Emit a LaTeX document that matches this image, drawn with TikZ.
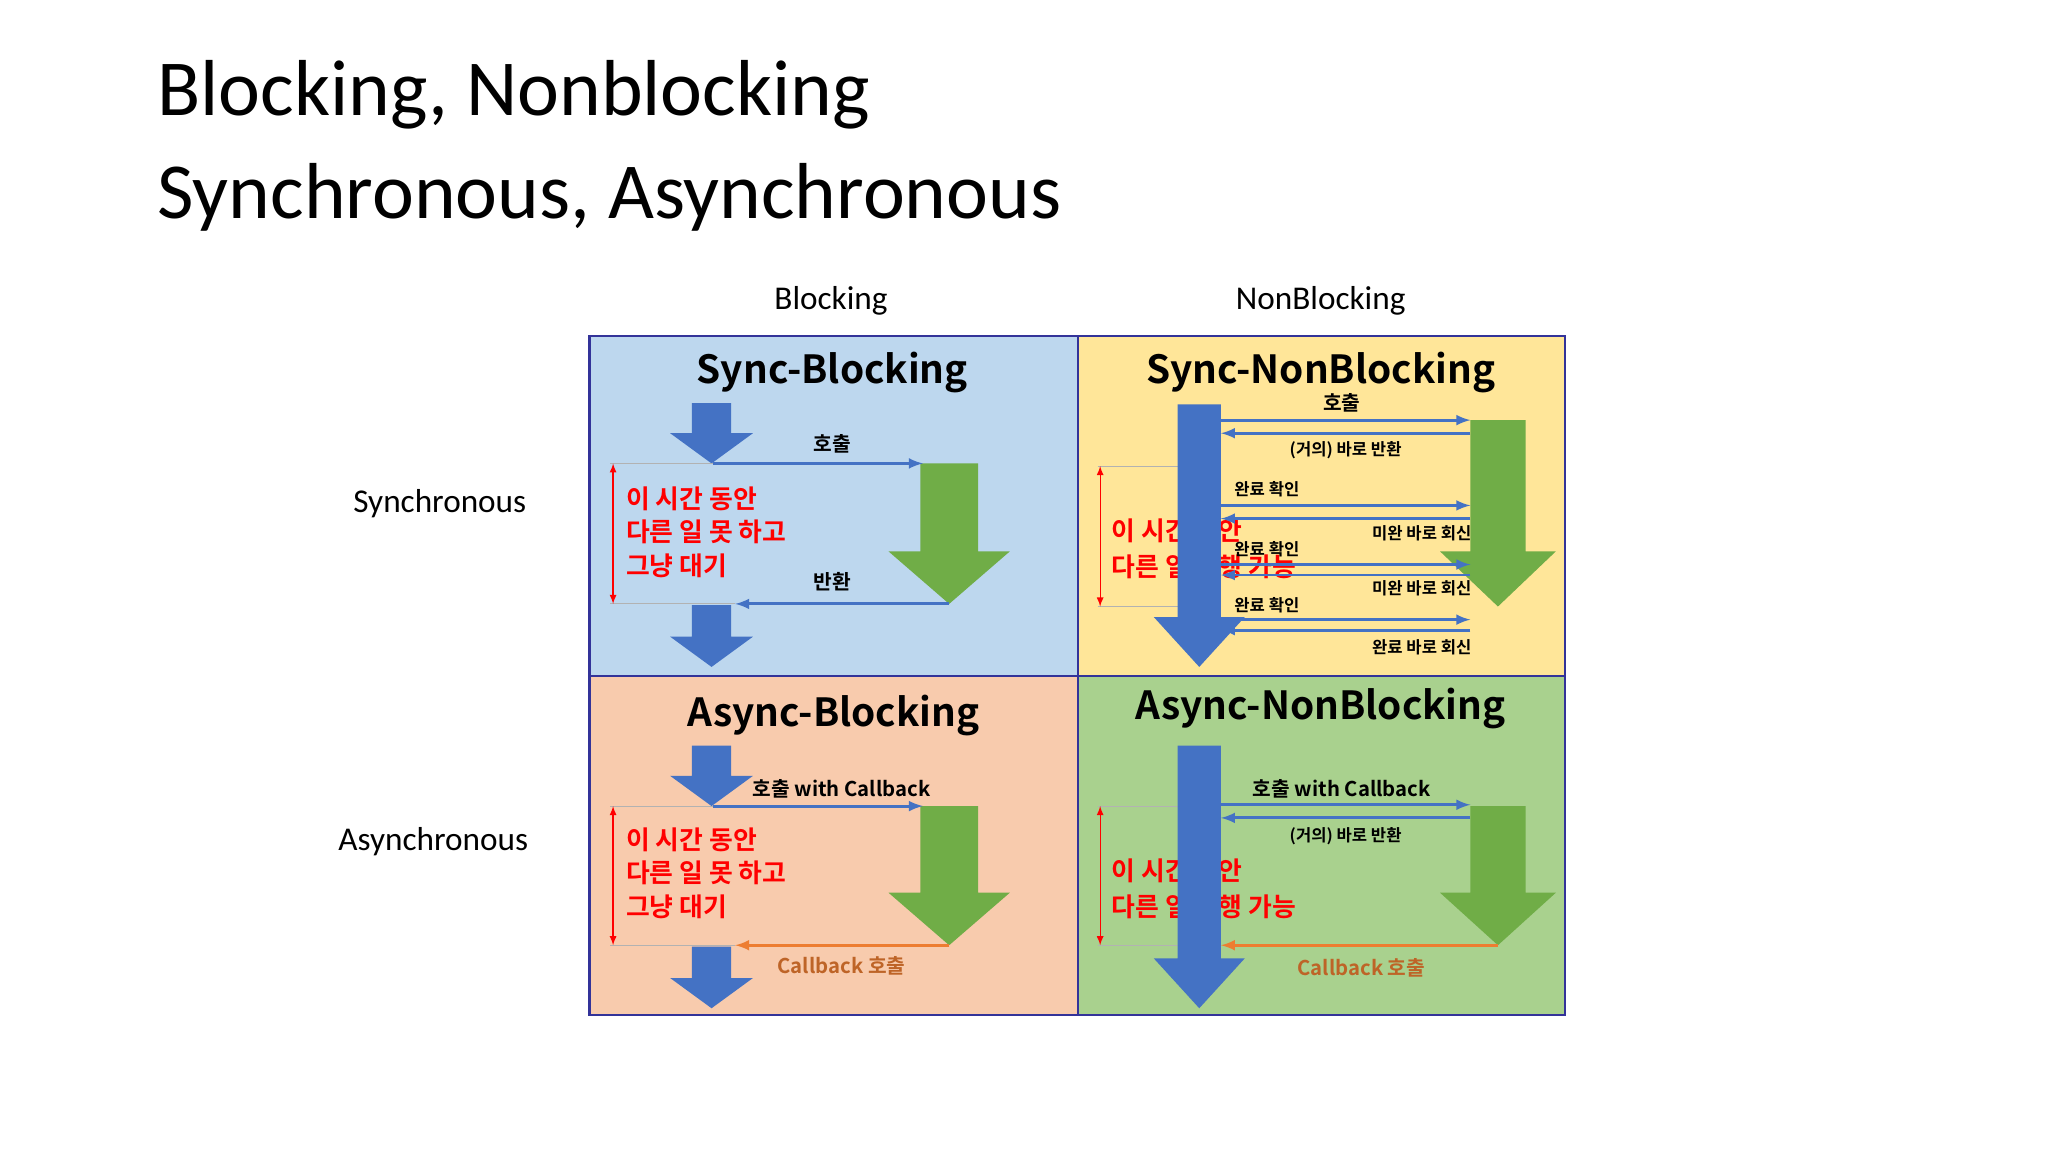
\documentclass[tikz,border=0pt]{standalone}
\usepackage{fontspec}
\setmainfont{Carlito}
\newfontfamily\kr{Noto Sans CJK KR}[BoldFont={Noto Sans CJK KR Bold}]
\begin{document}
\begin{tikzpicture}[x=0.025cm,y=-0.025cm,
  cell/.style={draw=blue!50!black!80,line width=1.4pt},
  ttl/.style={font=\kr\bfseries\fontsize{21}{24}\selectfont},
  lbl/.style={font=\kr\bfseries\fontsize{11}{13}\selectfont},
  sml/.style={font=\kr\bfseries\fontsize{9}{11}\selectfont},
  red/.style={font=\kr\bfseries\fontsize{14}{17}\selectfont,text=red,anchor=west},
  side/.style={font=\fontsize{18}{22}\selectfont},
  ln/.style={draw=arrB,line width=1.6pt,-latex},
  ol/.style={draw=arrO,line width=1.6pt,-latex},
  gl/.style={draw=gray!60,line width=0.5pt},
  br/.style={draw=red,line width=0.7pt,latex-latex}]
\definecolor{arrB}{HTML}{4472C4}
\definecolor{arrG}{HTML}{70AD47}
\definecolor{arrO}{HTML}{ED7D31}
\newcommand\blk[7]{\fill[#7] (#1,#3) -- (#2,#3) -- (#2,#4) -- (#6,#4) -- ({(#1+#2)/2},#5) -- (#6-#6+#1-(#2-#1)*0.6,#4) -- (#1,#4) -- cycle;}
\newcommand\barr[6]{% xl xr ytop yneck tipy color ; head width 0.55x extra
  \fill[#6] (#1,#3) -- (#2,#3) -- (#2,#4) -- ({#2+(#2-#1)*0.55},#4) -- ({(#1+#2)/2},#5) -- ({#1-(#2-#1)*0.55},#4) -- (#1,#4) -- cycle;}
\path[use as bounding box] (0,0) rectangle (1560,877.5);
% titles
\node[anchor=west,font=\fontsize{43}{50}\selectfont] (t1) at (115,72) {Blocking, Nonblocking};
\node[anchor=west,font=\fontsize{43}{50}\selectfont] (t2) at (115,150) {Synchronous, Asynchronous};
\node[side] (cb) at (633,229) {Blocking};
\node[side] (cn) at (1006,229) {NonBlocking};
\node[side] (rs) at (335,384) {Synchronous};
\node[side] (ra) at (330,641) {Asynchronous};
% cells
\fill[fill={rgb,255:red,189;green,215;blue,238}] (449,256) rectangle (821,515);
\fill[fill={rgb,255:red,255;green,230;blue,153}] (821,256) rectangle (1192,515);
\fill[fill={rgb,255:red,248;green,203;blue,173}] (449,515) rectangle (821,773);
\fill[fill={rgb,255:red,169;green,209;blue,142}] (821,515) rectangle (1192,773);
\draw[cell] (449,256) rectangle (821,515);
\draw[cell] (821,256) rectangle (1192,515);
\draw[cell] (449,515) rectangle (821,773);
\draw[cell] (821,515) rectangle (1192,773);
%%% Sync-Blocking
\node[ttl] (sbt) at (634,284) {Sync-Blocking};
\barr{527}{557}{307}{330}{353}{arrB}
\barr{701}{745}{353}{420}{460}{arrG}
\draw[gl] (465,353) -- (543,353); \draw[gl] (465,460) -- (560,460);
\draw[ln] (543,353) -- (703,353);
\node[lbl] at (634,338) {호출};
\draw[ln] (723,460) -- (560,460);
\node[lbl] at (634,443) {반환};
\draw[br] (467,353) -- (467,460);
\node[red] at (472,380) {이 시간 동안};
\node[red] at (472,405) {다른 일 못 하고};
\node[red] at (472,431) {그냥 대기};
\barr{527}{557}{461}{485}{508}{arrB}
%%% Sync-NonBlocking
\node[ttl] at (1006,284) {Sync-NonBlocking};
\node[lbl] at (1022,307) {호출};
\barr{1120}{1162}{320}{420}{462}{arrG}
\draw[gl] (836,355) -- (897,355); \draw[gl] (836,462) -- (897,462);
\draw[br] (838,355) -- (838,462);
\node[red] at (842,404) {이 시간 동안};
\node[red] at (842,432) {다른 일 수행 가능};
\barr{897}{930}{308}{470}{508}{arrB}
\foreach \a/\b in {320/330,385/395,430/438,472/480}{
  \draw[ln] (930,\a) -- (1120,\a);
  \draw[ln] (1120,\b) -- (930,\b);}
\node[sml] at (1025,343) {(거의) 바로 반환};
\node[sml] at (965,373) {완료 확인};
\node[sml] at (1083,406) {미완 바로 회신};
\node[sml] at (965,418) {완료 확인};
\node[sml] at (1083,448) {미완 바로 회신};
\node[sml] at (965,461) {완료 확인};
\node[sml] at (1083,493) {완료 바로 회신};
%%% Async-Blocking
\node[ttl] at (635,545) {Async-Blocking};
\barr{527}{557}{568}{591}{614}{arrB}
\barr{701}{745}{614}{680}{720}{arrG}
\draw[gl] (465,614) -- (543,614); \draw[gl] (465,720) -- (560,720);
\draw[ln] (543,614) -- (703,614);
\node[lbl] at (641,601) {호출 with Callback};
\draw[ol] (723,720) -- (560,720);
\node[lbl,text=arrO!80!black] at (641,736) {Callback 호출};
\draw[br] (467,614) -- (467,720);
\node[red] at (472,640) {이 시간 동안};
\node[red] at (472,665) {다른 일 못 하고};
\node[red] at (472,691) {그냥 대기};
\barr{527}{557}{721}{745}{768}{arrB}
%%% Async-NonBlocking
\node[ttl] at (1006,540) {Async-NonBlocking};
\barr{1120}{1162}{614}{680}{720}{arrG}
\draw[gl] (836,614) -- (897,614); \draw[gl] (836,720) -- (897,720);
\draw[br] (838,614) -- (838,720);
\node[red] at (842,663) {이 시간 동안};
\node[red] at (842,691) {다른 일 수행 가능};
\barr{897}{930}{568}{730}{768}{arrB}
\node[lbl] at (1022,601) {호출 with Callback};
\draw[ln] (930,613) -- (1120,613);
\draw[ln] (1120,623) -- (930,623);
\node[sml] at (1025,637) {(거의) 바로 반환};
\draw[ol] (1141,720) -- (930,720);
\node[lbl,text=arrO!80!black] at (1037,737) {Callback 호출};
\end{tikzpicture}
\end{document}
